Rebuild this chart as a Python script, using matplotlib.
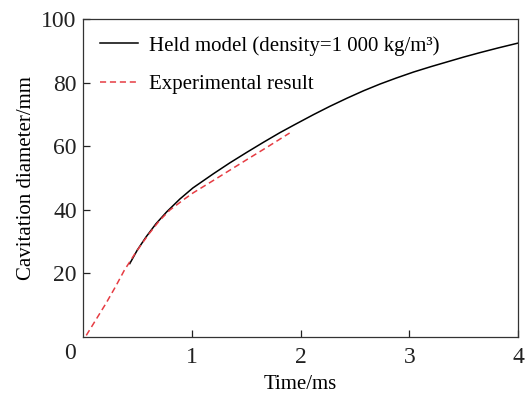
import numpy as np
import matplotlib.pyplot as plt

plt.rcParams['font.family'] = ['Liberation Serif', 'DejaVu Serif']

# Held model (density = 1 000 kg/m3)
held_t = [0.43, 0.5, 0.58, 0.67, 0.77, 0.89, 1.01, 1.2, 1.35, 1.51, 1.66, 1.81, 1.95,
          2.12, 2.27, 2.43, 2.58, 2.73, 2.88, 3.04, 3.2, 3.35, 3.5, 3.65, 3.82, 4.0]
held_d = [23.1, 27.4, 31.5, 35.6, 39.4, 43.4, 46.9, 51.4, 54.8, 58.2, 61.3, 64.3, 66.9,
          70.0, 72.6, 75.2, 77.5, 79.6, 81.5, 83.4, 85.1, 86.6, 88.1, 89.5, 91.0, 92.5]

# Experimental result
exp_t = [0.03, 0.12, 0.21, 0.3, 0.38, 0.47, 0.54, 0.61, 0.7, 0.8, 0.92, 1.01, 1.2,
         1.35, 1.51, 1.7, 1.9]
exp_d = [0.5, 5.5, 10.5, 15.9, 21.0, 25.8, 29.3, 32.6, 36.5, 40.0, 43.1, 45.3, 49.3,
         52.5, 55.9, 59.9, 64.2]

fig = plt.figure(figsize=(5.28, 3.94), dpi=100)
ax = fig.add_axes([0.1572, 0.1447, 0.8239, 0.8064])

ax.plot(held_t, held_d, color='black', lw=1.1, label='Held model (density=1 000 kg/m³)')
ax.plot(exp_t, exp_d, color='#e63c43', lw=1.1, ls=(0, (4, 2.5)), label='Experimental result')

ax.set_xlim(0, 4)
ax.set_ylim(0, 100)
ax.set_xticks([1, 2, 3, 4])
ax.set_yticks([20, 40, 60, 80, 100])
ax.tick_params(direction='in', length=5, width=0.9, labelsize=17, top=False, right=False,
               colors='#222222')
ax.tick_params(axis='x', pad=7)
ax.tick_params(axis='y', pad=4.5)
ax.text(-0.03, -0.02, '0', transform=ax.transAxes, ha='center', va='top', fontsize=17,
        color='#222222')
for s in ax.spines.values():
    s.set_linewidth(0.9)
    s.set_color('#333333')

ax.set_xlabel('Time/ms', fontsize=15, labelpad=5)
ax.set_ylabel('Cavitation diameter/mm', fontsize=15, labelpad=4)

ax.legend(loc='upper left', frameon=False, fontsize=15, handlelength=1.85,
          handletextpad=0.5, labelspacing=0.9, borderaxespad=0.4)

fig.savefig('out.png', dpi=100)
